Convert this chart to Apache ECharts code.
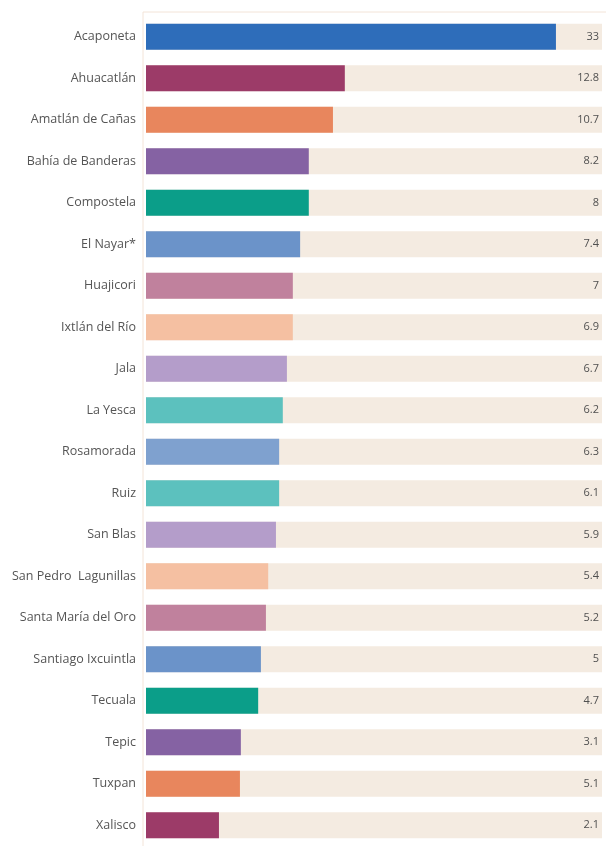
<!DOCTYPE html>
<html>
<head>
<meta charset="utf-8">
<script src="https://cdn.jsdelivr.net/npm/echarts@6/dist/echarts.min.js"></script>
<style>
  html, body { margin: 0; padding: 0; background: #ffffff; }
  #chart { width: 606px; height: 846px; }
</style>
</head>
<body>
<div id="chart"></div>
<script>
// municipalities, top to bottom
const municipios = [
    "Acaponeta", "Ahuacatlán", "Amatlán de Cañas", "Bahía de Banderas",
    "Compostela", "El Nayar*", "Huajicori", "Ixtlán del Río", "Jala",
    "La Yesca", "Rosamorada", "Ruiz", "San Blas", "San Pedro  Lagunillas",
    "Santa María del Oro", "Santiago Ixcuintla", "Tecuala", "Tepic",
    "Tuxpan", "Xalisco"
];

// numbers printed at the right end of each row
const valores = [33, 12.8, 10.7, 8.2, 8, 7.4, 7, 6.9, 6.7, 6.2,
    6.3, 6.1, 5.9, 5.4, 5.2, 5, 4.7, 3.1, 5.1, 2.1];

// bar length as drawn, in % of the background track (the source bars
// are not proportional to the printed numbers)
const largoBarra = [89.9, 43.6, 41.0, 35.7, 35.7, 33.8, 32.2, 32.2, 30.9, 30.0,
    29.2, 29.2, 28.5, 26.8, 26.3, 25.2, 24.6, 20.8, 20.6, 16.0];

const fondo = municipios.map(() => 100);

const colores = [
    "#2e6dba", "#9c3b68", "#e8865d", "#8562a3", "#0b9e89",
    "#6b93c9", "#c0819d", "#f5c0a2", "#b49dca", "#5cc1be",
    "#7fa1cf", "#5cc1be", "#b49dca", "#f5c0a2", "#c0819d",
    "#6b93c9", "#0b9e89", "#8562a3", "#e8865d", "#9c3b68"
];

const chart = echarts.init(document.getElementById("chart"));

chart.setOption({
    animation: false,
    backgroundColor: "#ffffff",
    grid: {
        left: 146,
        top: 16,
        width: 456,
        height: 835,
        containLabel: false
    },
    xAxis: {
        type: "value",
        min: 0,
        max: 100,
        show: false
    },
    yAxis: {
        type: "category",
        inverse: true,
        data: municipios,
        axisLine: { show: false },
        axisTick: { show: false },
        splitLine: { show: false },
        axisLabel: {
            margin: 10,
            fontFamily: "Open Sans",
            fontSize: 12.5,
            color: "#555555"
        }
    },
    graphic: [
        {
            type: "line",
            shape: { x1: 143, y1: 12, x2: 606, y2: 12 },
            style: { stroke: "#f3e4d8", lineWidth: 1 }
        },
        {
            type: "line",
            shape: { x1: 143, y1: 12, x2: 143, y2: 846 },
            style: { stroke: "#f3e4d8", lineWidth: 1 }
        }
    ],
    series: [
        {
            name: "fondo",
            type: "bar",
            data: fondo,
            barWidth: 26,
            barGap: "-100%",
            silent: true,
            itemStyle: { color: "#f4ebe1" },
            label: {
                show: true,
                position: "insideRight",
                distance: 3,
                fontFamily: "Open Sans",
                fontSize: 11,
                color: "#505050",
                formatter: p => String(valores[p.dataIndex])
            }
        },
        {
            name: "valor",
            type: "bar",
            data: largoBarra.map((v, i) => ({
                value: v,
                itemStyle: { color: colores[i] }
            })),
            barWidth: 26,
            barGap: "-100%"
        }
    ]
});
</script>
</body>
</html>
